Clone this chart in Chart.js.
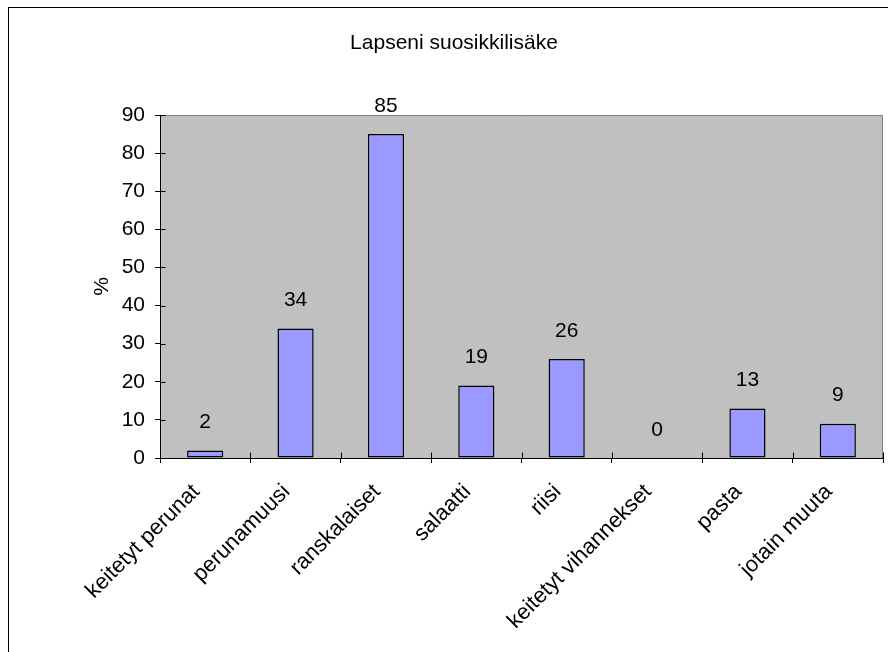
<!DOCTYPE html>
<html>
<head>
<meta charset="utf-8">
<script src="https://cdn.jsdelivr.net/npm/chart.js@4/dist/chart.umd.min.js"></script>
<style>
  html, body { margin: 0; padding: 0; background: #ffffff; }
  #c { display: block; }
</style>
</head>
<body>
<canvas id="c" width="888" height="652"></canvas>
<script>
// Survey results: children's favourite side dish, share of answers in percent
const chartTitle = 'Lapseni suosikkilisäke';
const yAxisTitle = '%';
const categories = [
  'keitetyt perunat',
  'perunamuusi',
  'ranskalaiset',
  'salaatti',
  'riisi',
  'keitetyt vihannekset',
  'pasta',
  'jotain muuta'
];
const percentages = [2, 34, 85, 19, 26, 0, 13, 9];
const yTickValues = [0, 10, 20, 30, 40, 50, 60, 70, 80, 90];

const FONT_FAMILY = '"Liberation Sans", Arial, Helvetica, sans-serif';
const TEXT_SIZE = 21;
const CATEGORY_TEXT_SIZE = 22;

// Outer frame, grey plot background and its grey top/right edge
const framePlugin = {
  id: 'frame',
  beforeDraw(chart) {
    const { ctx, chartArea: a } = chart;
    ctx.save();
    ctx.fillStyle = '#ffffff';
    ctx.fillRect(0, 0, chart.width, chart.height);
    ctx.strokeStyle = '#000000';
    ctx.lineWidth = 1;
    ctx.strokeRect(8.5, 7.5, chart.width + 20, chart.height + 20);
    ctx.fillStyle = '#c0c0c0';
    ctx.fillRect(a.left, a.top, a.right - a.left, a.bottom - a.top);
    ctx.strokeStyle = '#808080';
    ctx.beginPath();
    ctx.moveTo(a.left, Math.round(a.top) + 0.5);
    ctx.lineTo(Math.round(a.right) - 0.5, Math.round(a.top) + 0.5);
    ctx.lineTo(Math.round(a.right) - 0.5, a.bottom);
    ctx.stroke();
    ctx.restore();
  }
};

// Tick marks that cross the axes: the inner half of every tick
const innerTicksPlugin = {
  id: 'innerTicks',
  afterDraw(chart) {
    const { ctx, scales: { x, y } } = chart;
    ctx.save();
    ctx.strokeStyle = '#000000';
    ctx.lineWidth = 1;
    ctx.beginPath();
    const axisX = Math.round(x.left) + 0.5;
    yTickValues.forEach(v => {
      const py = Math.round(y.getPixelForValue(v)) + 0.5;
      ctx.moveTo(axisX - 0.5, py);
      ctx.lineTo(axisX + 5, py);
    });
    const axisY = Math.round(y.bottom) + 0.5;
    for (let i = 0; i <= categories.length; i++) {
      const px = Math.round(x.getPixelForValue(i - 0.5)) + 0.5;
      ctx.moveTo(px, axisY);
      ctx.lineTo(px, axisY - 6);
    }
    ctx.stroke();
    ctx.restore();
  }
};

// Value printed above each bar
const valueLabelsPlugin = {
  id: 'valueLabels',
  afterDatasetsDraw(chart) {
    const { ctx } = chart;
    const meta = chart.getDatasetMeta(0);
    ctx.save();
    ctx.fillStyle = '#000000';
    ctx.font = TEXT_SIZE + 'px ' + FONT_FAMILY;
    ctx.textAlign = 'center';
    ctx.textBaseline = 'middle';
    meta.data.forEach((bar, i) => {
      ctx.fillText(String(percentages[i]), bar.x, bar.y - 28);
    });
    ctx.restore();
  }
};

new Chart(document.getElementById('c'), {
  type: 'bar',
  data: {
    labels: categories,
    datasets: [{
      data: percentages,
      backgroundColor: '#9999ff',
      borderColor: '#000000',
      borderWidth: 1.5,
      borderSkipped: false,
      barPercentage: 0.4,
      categoryPercentage: 1.0
    }]
  },
  options: {
    responsive: false,
    devicePixelRatio: 1,
    animation: false,
    layout: { padding: { left: 25, right: 5, top: 0, bottom: 0 } },
    plugins: {
      legend: { display: false },
      tooltip: { enabled: false },
      title: {
        display: true,
        text: chartTitle,
        color: '#000000',
        font: { family: FONT_FAMILY, size: TEXT_SIZE, weight: 'normal', lineHeight: 1.2 },
        padding: { top: 31, bottom: 58.8 }
      }
    },
    scales: {
      x: {
        offset: true,
        grid: {
          offset: true,
          drawOnChartArea: false,
          drawTicks: true,
          tickLength: 5,
          color: '#000000'
        },
        border: { display: true, color: '#000000', width: 1 },
        ticks: {
          autoSkip: false,
          minRotation: 45,
          maxRotation: 45,
          padding: 16,
          labelOffset: -9,
          color: '#000000',
          font: { family: FONT_FAMILY, size: CATEGORY_TEXT_SIZE }
        },
        afterFit(scale) { scale.height = 194; }
      },
      y: {
        min: 0,
        max: 90,
        grid: {
          drawOnChartArea: false,
          drawTicks: true,
          tickLength: 5,
          color: '#000000'
        },
        border: { display: true, color: '#000000', width: 1 },
        ticks: {
          stepSize: 10,
          padding: 10,
          color: '#000000',
          font: { family: FONT_FAMILY, size: TEXT_SIZE },
          callback: (v) => yTickValues.includes(v) ? String(v) : null
        },
        title: {
          display: true,
          text: yAxisTitle,
          color: '#000000',
          font: { family: FONT_FAMILY, size: TEXT_SIZE, lineHeight: 1.2 },
          padding: { top: 64.4, bottom: 0 }
        },
        afterFit(scale) { scale.width = 135; }
      }
    }
  },
  plugins: [framePlugin, innerTicksPlugin, valueLabelsPlugin]
});
</script>
</body>
</html>
